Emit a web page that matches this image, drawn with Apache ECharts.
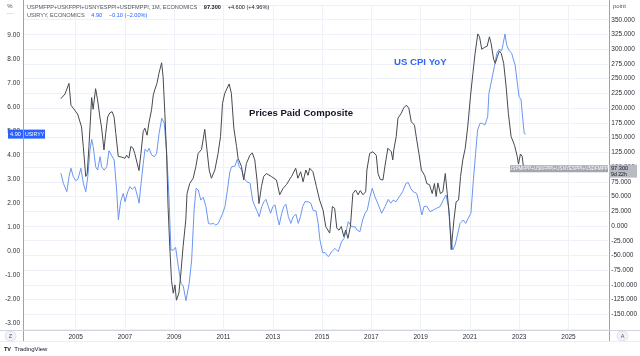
<!DOCTYPE html>
<html><head><meta charset="utf-8">
<script src="https://cdn.jsdelivr.net/npm/echarts@6/dist/echarts.min.js"></script>
<style>html,body{margin:0;padding:0;background:#fff}#c{width:640px;height:356px}</style>
</head><body><div id="c"></div>
<script>
// Prices Paid Composite (right axis, points)
const ppcYears = [2004.40,2004.57,2004.73,2004.81,2004.90,2005.08,2005.24,2005.31,2005.41,2005.47,2005.54,2005.65,2005.71,2005.81,2005.89,2005.99,2006.05,2006.15,2006.22,2006.30,2006.39,2006.48,2006.56,2006.63,2006.73,2006.86,2007.00,2007.07,2007.16,2007.24,2007.33,2007.40,2007.47,2007.57,2007.65,2007.74,2007.81,2007.90,2007.97,2008.08,2008.15,2008.21,2008.30,2008.38,2008.49,2008.55,2008.62,2008.69,2008.75,2008.82,2008.89,2008.96,2009.03,2009.09,2009.19,2009.27,2009.36,2009.47,2009.52,2009.63,2009.77,2009.88,2009.97,2010.11,2010.24,2010.33,2010.42,2010.51,2010.65,2010.78,2010.88,2010.96,2011.05,2011.15,2011.23,2011.32,2011.42,2011.53,2011.59,2011.66,2011.73,2011.82,2011.93,2012.07,2012.17,2012.27,2012.36,2012.44,2012.54,2012.63,2012.74,2012.94,2013.15,2013.28,2013.42,2013.55,2013.76,2013.93,2014.02,2014.13,2014.23,2014.34,2014.43,2014.50,2014.63,2014.77,2014.90,2015.04,2015.15,2015.31,2015.42,2015.51,2015.60,2015.69,2015.78,2015.88,2015.96,2016.05,2016.15,2016.25,2016.36,2016.46,2016.55,2016.66,2016.77,2016.82,2016.93,2017.06,2017.20,2017.27,2017.36,2017.47,2017.55,2017.67,2017.81,2017.87,2017.91,2018.01,2018.08,2018.21,2018.31,2018.42,2018.52,2018.62,2018.75,2018.82,2018.93,2019.03,2019.16,2019.25,2019.36,2019.47,2019.56,2019.63,2019.70,2019.80,2019.90,2020.00,2020.08,2020.17,2020.24,2020.35,2020.44,2020.54,2020.62,2020.71,2020.81,2020.91,2021.02,2021.12,2021.21,2021.32,2021.39,2021.48,2021.59,2021.70,2021.79,2021.86,2021.96,2022.03,2022.11,2022.20,2022.27,2022.37,2022.47,2022.56,2022.67,2022.81,2022.92,2022.97,2023.05,2023.12,2023.18];
const ppcValues = [216,224,242,205,200,190,168,135,84,89,135,218,198,233,214,183,168,129,157,185,192,194,185,157,118,117,115,120,115,135,132,123,123,94,123,160,166,154,174,197,222,231,242,259,277,253,191,123,33,-35,-92,-114,-100,-126,-114,-80,-35,10,55,72,81,101,123,130,164,129,95,81,95,123,152,208,225,234,241,225,166,135,115,118,101,78,106,120,124,112,78,38,67,84,89,84,78,53,64,70,84,98,81,92,75,95,86,98,92,67,44,27,-1,-12,33,30,-4,-7,-1,-18,-7,-21,-1,55,61,53,60,53,58,95,123,126,120,89,79,78,101,132,126,112,129,152,183,191,200,205,200,177,171,152,123,95,86,72,70,55,72,50,73,55,58,89,55,16,-40,10,41,44,84,112,132,168,219,259,293,326,321,300,303,305,321,310,283,276,287,297,293,276,236,191,152,137,118,105,122,118,97.3];
// US CPI YoY (left axis, %)
const cpiYears = [2004.40,2004.50,2004.64,2004.73,2004.81,2004.90,2005.00,2005.09,2005.21,2005.31,2005.41,2005.49,2005.58,2005.65,2005.71,2005.81,2005.89,2005.99,2006.05,2006.15,2006.26,2006.35,2006.42,2006.56,2006.66,2006.73,2006.82,2006.93,2007.00,2007.11,2007.20,2007.29,2007.40,2007.51,2007.57,2007.65,2007.74,2007.81,2007.90,2007.97,2008.08,2008.19,2008.28,2008.38,2008.49,2008.59,2008.69,2008.78,2008.86,2008.96,2009.05,2009.16,2009.27,2009.36,2009.47,2009.60,2009.70,2009.80,2009.88,2009.97,2010.07,2010.17,2010.28,2010.38,2010.47,2010.58,2010.67,2010.78,2010.85,2010.96,2011.05,2011.15,2011.25,2011.32,2011.46,2011.55,2011.63,2011.73,2011.82,2011.93,2012.07,2012.17,2012.27,2012.36,2012.44,2012.54,2012.63,2012.71,2012.81,2012.90,2012.99,2013.08,2013.17,2013.25,2013.35,2013.44,2013.52,2013.62,2013.72,2013.82,2013.93,2014.02,2014.11,2014.20,2014.29,2014.43,2014.53,2014.63,2014.74,2014.83,2014.90,2015.01,2015.11,2015.24,2015.38,2015.51,2015.64,2015.78,2015.88,2015.99,2016.05,2016.19,2016.32,2016.41,2016.52,2016.63,2016.73,2016.82,2016.93,2017.02,2017.13,2017.27,2017.40,2017.54,2017.67,2017.77,2017.87,2017.98,2018.12,2018.25,2018.39,2018.48,2018.58,2018.68,2018.82,2018.93,2019.03,2019.12,2019.23,2019.36,2019.50,2019.63,2019.77,2019.90,2020.01,2020.11,2020.17,2020.28,2020.38,2020.49,2020.58,2020.71,2020.81,2020.91,2021.02,2021.12,2021.21,2021.29,2021.39,2021.48,2021.59,2021.70,2021.75,2021.86,2021.97,2022.07,2022.16,2022.27,2022.33,2022.40,2022.47,2022.56,2022.67,2022.81,2022.92,2022.97,2023.05,2023.10,2023.18,2023.24];
const cpiValues = [3.27,2.85,2.50,3.13,3.48,3.13,2.96,3.02,3.48,2.85,2.50,3.13,4.24,4.68,4.38,3.54,3.40,3.96,3.54,3.40,3.54,4.21,4.29,3.82,2.57,1.32,2.08,2.43,2.08,2.50,2.71,2.60,2.71,2.29,2.02,2.85,3.68,4.27,4.17,4.31,4.03,3.96,4.10,4.93,5.56,5.35,4.10,2.29,0.07,0.07,0.18,-0.63,-1.32,-1.43,-2.04,-1.32,-0.35,1.74,2.64,2.57,2.15,2.27,1.88,1.18,1.15,1.18,1.11,1.18,1.11,1.60,1.88,2.57,3.33,3.54,3.57,3.85,3.54,3.40,3.06,2.92,2.85,2.15,1.88,1.67,1.46,1.88,2.08,2.18,1.88,1.60,1.88,1.95,1.46,1.11,1.60,1.88,1.98,1.46,1.18,1.46,1.56,1.18,1.46,1.88,2.08,2.08,2.02,1.71,1.70,1.18,0.49,-0.04,-0.04,-0.21,0.00,0.14,0.00,0.42,0.56,0.98,1.25,1.04,1.04,0.90,0.83,1.32,1.60,1.74,2.29,2.64,2.29,1.95,1.60,1.88,2.18,2.02,2.15,2.08,2.29,2.50,2.85,2.88,2.64,2.50,2.43,2.02,1.53,1.88,1.90,1.67,1.74,1.81,1.88,2.15,2.36,1.88,1.04,0.07,0.28,0.77,1.18,1.32,1.18,1.39,1.60,2.99,4.10,5.07,5.35,5.35,5.28,5.63,6.60,7.15,7.71,8.27,8.43,8.38,8.68,9.07,8.61,8.40,8.27,7.78,6.88,6.46,6.35,5.77,4.93,4.90];
const yearTicks = [2005,2007,2009,2011,2013,2015,2017,2019,2021,2023,2025];
const ppcName = 'USPMFPP+USKFPPI+USNYESPPI+USDFMPPI';
const cpiName = 'USIRYY';

const zip = (xs, ys) => xs.map((x, i) => [x, ys[i]]);
const X_MIN = 2002.864, X_MAX = 2026.617;
const FF = 'Liberation Sans';
const chart = echarts.init(document.getElementById('c'), null, {renderer: 'canvas'});
const baseX = {type: 'value', min: X_MIN, max: X_MAX, axisLine: {show: false}, axisTick: {show: false}};
chart.setOption({
  animation: false,
  grid: [
    {left: 23, right: 31, top: 5, height: 324.1},
    {left: 23, right: 31, top: 11.7, height: 312}
  ],
  xAxis: [
    Object.assign({}, baseX, {gridIndex: 0,
      axisTick: {show: false, customValues: yearTicks},
      axisLabel: {customValues: yearTicks, formatter: v => String(v), fontSize: 6.5, fontFamily: FF, color: '#2a2e39', margin: 5},
      splitLine: {show: true, lineStyle: {color: '#eef1f7', width: 1}}}),
    Object.assign({}, baseX, {gridIndex: 1, show: false, splitLine: {show: false}})
  ],
  yAxis: [
    {type: 'value', gridIndex: 0, position: 'right', min: -175, max: 375, interval: 25,
     axisLine: {show: false}, axisTick: {show: false},
     axisLabel: {formatter: v => v.toFixed(3), fontSize: 6.5, fontFamily: FF, color: '#2a2e39', margin: 3, showMinLabel: false, showMaxLabel: false},
     splitLine: {show: true, lineStyle: {color: '#eef1f7', width: 1}}},
    {type: 'value', gridIndex: 1, position: 'left', min: -3, max: 10, interval: 1,
     axisLine: {show: false}, axisTick: {show: false},
     axisLabel: {formatter: v => v.toFixed(2), fontSize: 6.5, fontFamily: FF, color: '#2a2e39', margin: 3, showMaxLabel: false},
     splitLine: {show: false}}
  ],
  series: [
    {name: 'Prices Paid Composite', type: 'line', xAxisIndex: 0, yAxisIndex: 0, data: zip(ppcYears, ppcValues),
     showSymbol: false, lineStyle: {color: '#46494f', width: 1}, z: 3},
    {name: 'US CPI YoY', type: 'line', xAxisIndex: 1, yAxisIndex: 1, data: zip(cpiYears, cpiValues),
     showSymbol: false, lineStyle: {color: '#6a95f2', width: 1}, z: 2}
  ]
});

const lastR = ppcValues[ppcValues.length - 1];
const lastL = cpiValues[cpiValues.length - 1];
const yR = chart.convertToPixel({yAxisIndex: 0}, lastR);
const yL = chart.convertToPixel({yAxisIndex: 1}, lastL);
const blue = '#2962ff';
const g = [
  // frame separators
  {type: 'line', shape: {x1: 23.5, y1: 0, x2: 23.5, y2: 341}, style: {stroke: '#9ea2ab', lineWidth: 1}, silent: true, z: 10},
  {type: 'line', shape: {x1: 609.5, y1: 0, x2: 609.5, y2: 341}, style: {stroke: '#9ea2ab', lineWidth: 1}, silent: true, z: 10},
  {type: 'line', shape: {x1: 0, y1: 330.5, x2: 640, y2: 330.5}, style: {stroke: '#d1d4dc', lineWidth: 1}, silent: true, z: 10},
  {type: 'line', shape: {x1: 0, y1: 341.5, x2: 640, y2: 341.5}, style: {stroke: '#eceef2', lineWidth: 1}, silent: true, z: 10},
  // header
  {type: 'text', x: 27, y: 7, style: {text: '{a|' + ppcName + ', 1M, ECONOMICS}  {b|97.300}  {c|+4.600 (+4.96%)}', verticalAlign: 'middle',
    rich: {a: {fontSize: 5.6, fontFamily: FF, fill: '#50535e'}, b: {fontSize: 5.6, fontFamily: FF, fill: '#131722', fontWeight: 'bold'}, c: {fontSize: 5.6, fontFamily: FF, fill: '#131722'}}}, z: 20},
  {type: 'text', x: 27, y: 15, style: {text: '{a|' + cpiName + ', ECONOMICS}  {b|4.90}  {b|\u22120.10 (\u22122.00%)}', verticalAlign: 'middle',
    rich: {a: {fontSize: 5.6, fontFamily: FF, fill: '#50535e'}, b: {fontSize: 5.6, fontFamily: FF, fill: blue}}}, z: 20},
  {type: 'text', x: 10, y: 6, style: {text: '%', fontSize: 6, fontFamily: FF, fill: '#50535e', align: 'center', verticalAlign: 'middle'}, z: 20},
  {type: 'text', x: 10, y: 13, style: {text: '-----', fontSize: 4, fontFamily: FF, fill: '#b2b5be', align: 'center', verticalAlign: 'middle'}, z: 20},
  {type: 'text', x: 613, y: 6, style: {text: 'point', fontSize: 6, fontFamily: FF, fill: '#50535e', verticalAlign: 'middle'}, z: 20},
  // annotations
  {type: 'text', x: 249, y: 113, style: {text: 'Prices Paid Composite', fontSize: 9.6, fontWeight: 'bold', fontFamily: FF, fill: '#131722', verticalAlign: 'middle'}, z: 20},
  {type: 'text', x: 394, y: 62.5, style: {text: 'US CPI YoY', fontSize: 9.6, fontWeight: 'bold', fontFamily: FF, fill: '#2f66f3', verticalAlign: 'middle'}, z: 20},
  // last value labels (right)
  {type: 'rect', shape: {x: 510, y: yR - 3.5, width: 98, height: 7}, style: {fill: '#a3a6af'}, z: 20},
  {type: 'text', x: 559, y: yR, style: {text: ppcName, fontSize: 4.6, fontFamily: FF, fill: '#fff', align: 'center', verticalAlign: 'middle'}, z: 21},
  {type: 'rect', shape: {x: 609, y: yR - 4, width: 28, height: 13}, style: {fill: '#b8bbc3'}, z: 20},
  {type: 'text', x: 611, y: yR, style: {text: lastR.toFixed(3), fontSize: 5.6, fontFamily: FF, fill: '#131722', verticalAlign: 'middle'}, z: 21},
  {type: 'text', x: 611, y: yR + 5.5, style: {text: '9d 22h', fontSize: 5.2, fontFamily: FF, fill: '#131722', verticalAlign: 'middle'}, z: 21},
  // last value labels (left)
  {type: 'rect', shape: {x: 8, y: yL - 4.5, width: 15, height: 9}, style: {fill: blue}, z: 20},
  {type: 'text', x: 15.5, y: yL, style: {text: lastL.toFixed(2), fontSize: 5.6, fontFamily: FF, fill: '#fff', align: 'center', verticalAlign: 'middle'}, z: 21},
  {type: 'rect', shape: {x: 24, y: yL - 4.5, width: 21, height: 9}, style: {fill: blue}, z: 20},
  {type: 'text', x: 34.5, y: yL, style: {text: cpiName, fontSize: 5.2, fontFamily: FF, fill: '#fff', align: 'center', verticalAlign: 'middle'}, z: 21},
  // scale buttons
  {type: 'rect', shape: {x: 5, y: 331.5, width: 11, height: 9, r: 4}, style: {fill: '#f0f3fa', stroke: '#e0e3eb'}, z: 20},
  {type: 'text', x: 10.5, y: 336, style: {text: 'Z', fontSize: 5.5, fontFamily: FF, fill: '#50535e', align: 'center', verticalAlign: 'middle'}, z: 21},
  {type: 'rect', shape: {x: 617, y: 331.5, width: 11, height: 9, r: 4}, style: {fill: '#f0f3fa', stroke: '#e0e3eb'}, z: 20},
  {type: 'text', x: 622.5, y: 336, style: {text: 'A', fontSize: 5.5, fontFamily: FF, fill: '#50535e', align: 'center', verticalAlign: 'middle'}, z: 21},
  // logo
  {type: 'text', x: 4, y: 349, style: {text: '{l|TV} {t|TradingView}', verticalAlign: 'middle',
    rich: {l: {fontSize: 5.5, fontWeight: 'bold', fontFamily: FF, fill: '#131722'}, t: {fontSize: 6, fontFamily: FF, fill: '#131722'}}}, z: 20}
];
chart.setOption({graphic: g});
</script></body></html>
